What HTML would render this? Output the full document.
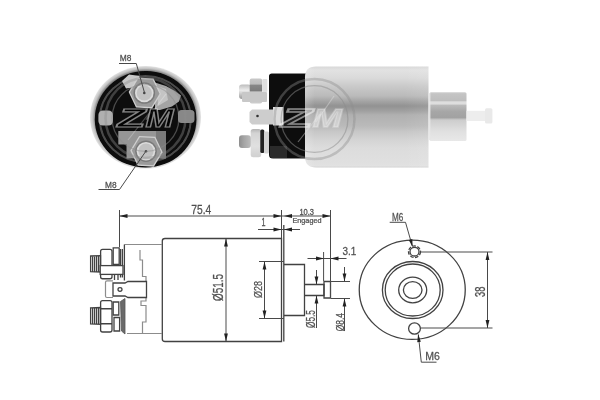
<!DOCTYPE html>
<html><head><meta charset="utf-8"><title>Solenoid</title>
<style>
html,body{margin:0;padding:0;background:#fff;}
body{width:600px;height:400px;overflow:hidden;}
svg{display:block;}
text{font-family:"Liberation Sans",sans-serif;fill:#505050;stroke:#505050;stroke-width:0.25px;vector-effect:non-scaling-stroke;}
.l{stroke:#424242;stroke-width:1.3;fill:none;}
.lt{stroke:#4a4a4a;stroke-width:1;fill:none;}
.g{stroke:#8c8c8c;stroke-width:1.2;fill:none;}
.a{fill:#222;stroke:none;}
.wm{font-family:"Liberation Sans",sans-serif;font-weight:bold;font-style:italic;fill:#fff;fill-opacity:0.3;stroke:#fff;stroke-opacity:0.75;stroke-width:1.2px;}
</style></head><body>
<svg width="600" height="400" viewBox="0 0 600 400">
<defs>
<linearGradient id="cyl" x1="0" y1="0" x2="0" y2="1">
<stop offset="0.000" stop-color="#d8d8d8"/><stop offset="0.035" stop-color="#e2e2e2"/><stop offset="0.114" stop-color="#dadada"/><stop offset="0.193" stop-color="#cacaca"/><stop offset="0.292" stop-color="#bababa"/><stop offset="0.342" stop-color="#a5a5a5"/><stop offset="0.391" stop-color="#929292"/><stop offset="0.441" stop-color="#a0a0a0"/><stop offset="0.480" stop-color="#b0b0b0"/><stop offset="0.589" stop-color="#bababa"/><stop offset="0.649" stop-color="#c8c8c8"/><stop offset="0.728" stop-color="#d4d4d4"/><stop offset="0.807" stop-color="#dcdcdc"/><stop offset="0.965" stop-color="#e0e0e0"/><stop offset="0.985" stop-color="#e2e2e2"/><stop offset="1.000" stop-color="#d0d0d0"/>
</linearGradient>
<linearGradient id="cylx" x1="0" y1="0" x2="1" y2="0">
<stop offset="0" stop-color="#fff" stop-opacity="0.2"/><stop offset="0.08" stop-color="#fff" stop-opacity="0"/>
<stop offset="0.8" stop-color="#fff" stop-opacity="0"/><stop offset="1" stop-color="#fff" stop-opacity="0.08"/>
</linearGradient>
<linearGradient id="hou" x1="0" y1="0" x2="0" y2="1">
<stop offset="0" stop-color="#cecece"/><stop offset="0.04" stop-color="#c4c4c4"/><stop offset="0.17" stop-color="#bebebe"/><stop offset="0.2" stop-color="#dedede"/><stop offset="0.24" stop-color="#dedede"/><stop offset="0.27" stop-color="#bababa"/><stop offset="0.4" stop-color="#a6a6a6"/><stop offset="0.52" stop-color="#a2a2a2"/><stop offset="0.57" stop-color="#cdcdcd"/><stop offset="0.8" stop-color="#e0e0e0"/><stop offset="1" stop-color="#e8e8e8"/>
</linearGradient>
<linearGradient id="nut" x1="0" y1="0" x2="0" y2="1">
<stop offset="0" stop-color="#d8d8d8"/><stop offset="0.35" stop-color="#f0f0f0"/>
<stop offset="0.7" stop-color="#b4b4b4"/><stop offset="1" stop-color="#8a8a8a"/>
</linearGradient>
<linearGradient id="nutA" x1="0" y1="0" x2="0" y2="1">
<stop offset="0" stop-color="#c8c8c8"/><stop offset="0.22" stop-color="#bcbcbc"/>
<stop offset="0.27" stop-color="#868686"/><stop offset="0.48" stop-color="#7c7c7c"/>
<stop offset="0.54" stop-color="#c4c4c4"/><stop offset="1" stop-color="#cccccc"/>
</linearGradient>
<linearGradient id="nutB" x1="0" y1="0" x2="0" y2="1">
<stop offset="0" stop-color="#b4b4b4"/><stop offset="0.15" stop-color="#d4d4d4"/>
<stop offset="0.6" stop-color="#e0e0e0"/><stop offset="1" stop-color="#d0d0d0"/>
</linearGradient>
<linearGradient id="thrB" x1="0" y1="0" x2="1" y2="0">
<stop offset="0" stop-color="#8e8e8e"/><stop offset="0.4" stop-color="#a4a4a4"/>
<stop offset="1" stop-color="#bcbcbc"/>
</linearGradient>
<linearGradient id="thr" x1="0" y1="0" x2="0" y2="1">
<stop offset="0" stop-color="#bdbdbd"/><stop offset="0.4" stop-color="#ececec"/>
<stop offset="1" stop-color="#9a9a9a"/>
</linearGradient>
<radialGradient id="rim" cx="0.5" cy="0.5" r="0.5">
<stop offset="0.84" stop-color="#222"/><stop offset="0.9" stop-color="#777"/>
<stop offset="0.95" stop-color="#c2c2c2"/><stop offset="1" stop-color="#e4e4e4"/>
</radialGradient>
<radialGradient id="stud" cx="0.5" cy="0.5" r="0.5">
<stop offset="0" stop-color="#555"/><stop offset="0.16" stop-color="#8a8a8a"/><stop offset="0.22" stop-color="#b4b4b4"/>
<stop offset="0.6" stop-color="#bcbcbc"/><stop offset="0.7" stop-color="#dcdcdc"/>
<stop offset="0.9" stop-color="#d4d4d4"/><stop offset="1" stop-color="#909090"/>
</radialGradient>
<filter id="b1" x="-10%" y="-10%" width="120%" height="120%"><feGaussianBlur stdDeviation="0.7"/></filter>
<filter id="b2" x="-10%" y="-10%" width="120%" height="120%"><feGaussianBlur stdDeviation="1.1"/></filter>
<filter id="b0" x="-10%" y="-10%" width="120%" height="120%"><feGaussianBlur stdDeviation="0.35"/></filter>
<filter id="bd" x="-5%" y="-5%" width="110%" height="110%"><feGaussianBlur stdDeviation="0.4"/></filter>
<clipPath id="c1"><ellipse cx="145.5" cy="117.3" rx="55.5" ry="51.3"/></clipPath>
</defs>
<rect width="600" height="400" fill="#fff"/>

<!-- ===== PHOTO 1 : end view ===== -->
<g id="photo1" filter="url(#b1)">
<ellipse cx="145.500" cy="117.300" rx="55.500" ry="51.300" fill="url(#rim)"/>
<ellipse cx="145.600" cy="119.300" rx="50.800" ry="48.200" fill="#080808"/>
<ellipse cx="145.300" cy="119" rx="45.500" ry="43" fill="none" stroke="#4c4c4c" stroke-width="2"/>
<!-- contact plates -->
<path d="M122 81 L129 74.500 L140 76 L137 87 L126 88.500 Z" fill="#c8c8c8"/>
<path d="M155 82.500 L166 86 L175 91 L181 95.500 L179 101.500 L172 106.500 L160 110 L155 110 Z" fill="#a4a4a4"/>
<path d="M157 86 L166 89 L168 100 L158 106 Z" fill="#c4c4c4"/>
<path d="M118.300 131 L166 131 L166 158.500 L126.500 158.500 L126.500 144.500 L118.300 144.500 Z" fill="#969696"/>
<rect x="156" y="131" width="10" height="27" fill="#7a7a7a"/>
<!-- side tabs -->
<rect x="98.400" y="110.500" width="14.600" height="15" rx="4.500" fill="#b0b0b0"/>
<rect x="178" y="110" width="16.500" height="13" rx="3.500" fill="#888"/>
<!-- nuts -->
<polygon points="161.0,93.9 152.2,108.4 136.0,107.5 128.6,92.1 137.4,77.6 153.6,78.5" fill="#cfcfcf"/>
<polygon points="159.5,93.8 151.5,107.0 136.8,106.2 130.1,92.2 138.1,79.0 152.8,79.8" fill="#9a9a9a"/>
<circle cx="144.3" cy="93" r="10.8" fill="#7a7a7a"/>
<circle cx="144.3" cy="93" r="9.3" fill="#dcdcdc"/>
<circle cx="144.3" cy="93" r="7.600" fill="#c2c2c2"/>
<circle cx="144.3" cy="93" r="1.300" fill="#444"/>
<polygon points="162.7,152.2 153.9,166.7 137.7,165.8 130.3,150.4 139.1,135.9 155.3,136.8" fill="#cfcfcf"/>
<polygon points="161.2,152.1 153.2,165.3 138.5,164.5 131.8,150.5 139.8,137.3 154.5,138.1" fill="#9a9a9a"/>
<circle cx="146" cy="151.2" r="10.8" fill="#7a7a7a"/>
<circle cx="146" cy="151.2" r="9.3" fill="#dcdcdc"/>
<circle cx="146" cy="151.2" r="7.600" fill="#c2c2c2"/>
<circle cx="146" cy="151.2" r="1.300" fill="#444"/>
</g>
<!-- watermark 1 -->
<g clip-path="url(#c1)" filter="url(#b0)">
<circle cx="145.500" cy="118" r="40" fill="none" stroke="#8c8c8c" stroke-width="2.500" opacity="0.4"/>
<circle cx="145.500" cy="118" r="33.400" fill="none" stroke="#8c8c8c" stroke-width="1.300" opacity="0.5"/>
<path d="M128 140 L150 112 L146 120 L166 94" fill="none" stroke="#fff" stroke-width="1.200" opacity="0.25"/>
<text class="wm" style="fill:#050505;fill-opacity:0.85;stroke-opacity:0.5;stroke-width:1px" transform="matrix(1 0 0 1.160 117.500 127.300)" font-size="23"><tspan textLength="28" lengthAdjust="spacingAndGlyphs">Z</tspan><tspan textLength="28" lengthAdjust="spacingAndGlyphs">M</tspan></text>
</g>
<!-- labels photo1 -->
<g filter="url(#bd)">
<text transform="matrix(0.838 0 0 0.93 119.75 61.407)" font-size="10">M8</text>
<path class="lt" d="M119 63.500H136.300L144.300 92"/>
<text transform="matrix(0.835 0 0 0.873 105 187.513)" font-size="10">M8</text>
<path class="lt" d="M98.500 189.500H119.500L146 151"/>
</g>

<!-- ===== PHOTO 2 : side view ===== -->
<g id="photo2" filter="url(#b1)">
<!-- studs -->
<rect x="239" y="84.500" width="12" height="14.500" rx="3" fill="url(#thr)"/>
<rect x="249.700" y="78.500" width="12.500" height="25" rx="2" fill="url(#nutA)"/>
<rect x="242" y="92" width="25" height="10" rx="1" fill="#c8c8c8"/>
<rect x="262.300" y="79" width="5" height="13" rx="1" fill="#e0e0e0"/>
<rect x="239" y="135.300" width="12" height="12.700" rx="3" fill="url(#thrB)"/>
<rect x="250.700" y="129" width="10.500" height="28.300" rx="2.500" fill="url(#nutB)"/>
<rect x="260.300" y="129.400" width="4" height="23.600" rx="1.500" fill="#222"/>
<rect x="264" y="131.600" width="5" height="22" rx="1.500" fill="#d2d2d2"/>
<!-- black cap -->
<path d="M269 76 Q269 73.500 272 73.500 L312 73.500 L312 158.500 L273 158.500 Q269 158.500 269 155 Z" fill="#111"/>
<path d="M270 146 L287 146 L287 158 L273 158 Q270 158 270 155 Z" fill="#2c2c2c"/>
<!-- blade -->
<path d="M249.500 112 L252 109.500 L276 109.500 L276 124.500 L252 124.500 L249.500 122 Z" fill="#cdcdcd"/>
<rect x="273" y="107" width="10.500" height="18.500" fill="#dcdcdc"/>
<circle cx="257.500" cy="116" r="1.300" fill="#333"/>
<!-- body -->
<path d="M305 77.500 Q305 66.500 316 66.500 L428.500 66.500 L428.500 167.500 L316 167.500 Q305 167.500 305 156.500 Z" fill="url(#cyl)"/>
<path d="M305 77.500 Q305 66.500 316 66.500 L428.500 66.500 L428.500 167.500 L316 167.500 Q305 167.500 305 156.500 Z" fill="url(#cylx)"/>
<rect x="429.500" y="92.200" width="37" height="48.800" rx="1.500" fill="url(#hou)"/>
<rect x="428.500" y="93" width="2" height="47" fill="#e6e6e6" opacity="0.8"/>
<rect x="466.500" y="110.800" width="19" height="10.200" fill="#ededed"/>
<rect x="485" y="108.200" width="7.400" height="15.400" rx="1.500" fill="#e9e9e9"/>
</g>
<!-- watermark 2 -->
<g filter="url(#b0)">
<circle cx="314.500" cy="119" r="40" fill="none" stroke="#8c8c8c" stroke-width="2.500" opacity="0.4"/>
<circle cx="314.500" cy="119" r="33.400" fill="none" stroke="#8c8c8c" stroke-width="1.300" opacity="0.5"/>
<path d="M298 142 L320 114 L316 122 L334 96" fill="none" stroke="#e4e4e4" stroke-width="1.200" opacity="0.4"/>
<text class="wm" transform="matrix(1 0 0 1.160 281 127.300)" font-size="23"><tspan style="fill-opacity:0.06;stroke-opacity:0.5" textLength="31.500" lengthAdjust="spacingAndGlyphs">Z</tspan><tspan style="fill-opacity:0.35;stroke-opacity:0.25" textLength="29.500" lengthAdjust="spacingAndGlyphs">M</tspan></text>
</g>

<!-- ===== DRAWING 1 : side ===== -->
<g id="draw1" filter="url(#bd)">
<!-- body -->
<path class="l" d="M165 238.500H281.500V341.500H165Q162.300 341.500 162.300 339V241Q162.300 238.500 165 238.500Z"/>
<path class="l" d="M283.800 225V341.500"/>
<path class="l" d="M284 264.500H304.500V315.500H284"/>
<path class="l" d="M304.500 284.500H324V295.500H304.500"/>
<path class="l" d="M324 281.500H330.500V298H324Z"/>
<!-- cap (light) -->
<path class="g" d="M124.500 244.500H162M127 333.500H162M140 250V260H142.500V276.500H146V282M146 298V301H141V305.500H146V322H142.500V333"/>
<!-- upper stud -->
<path class="l" stroke-width="1.100" d="M90.600 256L100.500 255.600V272L90.600 271.600ZM92.600 256V271.600M94.600 256V271.600M96.600 256V271.600M98.600 256V271.600"/>
<path class="l" d="M100.600 251.400Q100.600 249.400 102.600 249.400H110Q112 249.400 112 251.400V276.750Q112 278.750 110 278.750H102.600Q100.600 278.750 100.600 276.750Z"/>
<path class="l" stroke-width="1.600" d="M113.200 247.800H119.200V264.400H113.200Z"/>
<path class="l" stroke-width="1.100" d="M120.500 249V277.500M122.400 249V277.500M124.400 244.500V280.500M114.500 274.400V280M118 274.400V280"/>
<rect class="l" x="100.200" y="265.600" width="22.800" height="8.800" style="fill:#fff"/>
<!-- blade -->
<path class="g" d="M113 280.800H107Q105.500 280.800 105.500 282.300V296Q105.500 297.500 107 297.500H113"/>
<path class="l" d="M113 283H125L128 281.500H146.500V297.500H128L125 296H113Z"/>
<ellipse class="l" cx="120" cy="289.500" rx="2" ry="1.800" stroke-width="1"/>
<!-- lower stud -->
<path class="l" stroke-width="1.100" d="M90.600 307.900L100.500 307.500V324.400L90.600 324ZM92.600 308V324M94.600 308V324M96.600 308V324M98.600 308V324"/>
<path class="l" d="M100.600 302.600Q100.600 300.600 102.600 300.600H110Q112 300.600 112 302.600V330Q112 332 110 332H102.600Q100.600 332 100.600 330ZM100.600 308.750H112M100.600 323.750H112"/>
<path class="l" stroke-width="1.400" d="M113.200 302H118.800V315H113.200ZM114 317.500H119.600V331H114Z"/>
<path d="M120.500 301.500L125 298.500V334L121.500 331Z" fill="#6a6a6a" stroke="#555" stroke-width="0.800"/>
<!-- dim 75.400 -->
<path class="lt" d="M119.500 210V247M119.500 216H282M281.500 210V238"/>
<polygon class="a" points="119.5,216 127.5,214.1 127.5,217.9"/><polygon class="a" points="281.5,216 273.5,214.1 273.5,217.9"/>
<text transform="matrix(1.026 0 0 1.257 191.25 213.674)" font-size="10">75.4</text>
<!-- dim 10.300 -->
<path class="lt" d="M282 216H330.500M330.500 210V298"/>
<polygon class="a" points="284,216 292,214.1 292,217.9"/><polygon class="a" points="330.5,216 322.5,214.1 322.5,217.9"/>
<text transform="matrix(0.751 0 0 0.817 299.4 214.918)" font-size="10">10.3</text>
<text transform="matrix(0.729 0 0 0.706 292.4 223.118)" font-size="10">Engaged</text>
<!-- dim 1 -->
<path class="lt" d="M258 229.500H300"/>
<polygon class="a" points="281.5,229.5 273.5,227.6 273.5,231.4"/><polygon class="a" points="284,229.5 292,227.6 292,231.4"/>
<text transform="matrix(0.721 0 0 1.116 261.6 226)" font-size="10">1</text>
<!-- dia 51.500 -->
<path class="lt" d="M226 238.500V341.500"/>
<polygon class="a" points="226,238.5 224.1,246.5 227.9,246.5"/><polygon class="a" points="226,341.5 224.1,333.5 227.9,333.5"/>
<text transform="translate(223.262 301) rotate(-90) scale(0.991 1.38)" font-size="10">Ø51.5</text>
<!-- dia 28 -->
<path class="lt" d="M259 261.500H284M259 318.500H284M264.500 261.500V318.500"/>
<polygon class="a" points="264.5,261.5 262.6,269.5 266.4,269.5"/><polygon class="a" points="264.5,318.5 262.6,310.5 266.4,310.5"/>
<text transform="translate(261.882 298) rotate(-90) scale(0.899 1.183)" font-size="10">Ø28</text>
<!-- dia 5.500 -->
<path class="lt" d="M316.500 270V284.500M316.500 295.500V328"/>
<polygon class="a" points="316.5,284.5 314.6,276.5 318.4,276.5"/><polygon class="a" points="316.5,295.5 314.6,303.5 318.4,303.5"/>
<text transform="translate(314.877 328) rotate(-90) scale(0.829 1.232)" font-size="10">Ø5.5</text>
<!-- dia 8.400 -->
<path class="lt" d="M331 281.500H350M331 298.500H350M344.500 267V281.500M344.500 298.500V331"/>
<polygon class="a" points="344.5,281.5 342.6,273.5 346.4,273.5"/><polygon class="a" points="344.5,298.5 342.6,306.5 346.4,306.5"/>
<text transform="translate(344.384 331.25) rotate(-90) scale(0.841 1.162)" font-size="10">Ø8.4</text>
<!-- 3.100 -->
<path class="lt" d="M307.500 258.500H346.500M323.600 252V281"/>
<polygon class="a" points="324,258.5 316,256.6 316,260.4"/><polygon class="a" points="330.5,258.5 338.5,256.6 338.5,260.4"/>
<text transform="matrix(0.989 0 0 1.056 342.5 255.394)" font-size="10">3.1</text>
</g>

<!-- ===== DRAWING 2 : flange view ===== -->
<g id="draw2" filter="url(#bd)">
<ellipse class="l" cx="412.250" cy="289.750" rx="53" ry="49.700"/>
<ellipse class="l" cx="412.700" cy="290" rx="30.300" ry="28.500"/>
<ellipse class="l" cx="412.700" cy="290" rx="27.500" ry="26"/>
<ellipse class="l" cx="412.700" cy="290" rx="14" ry="12.800"/>
<ellipse class="l" cx="412.700" cy="290" rx="9.300" ry="8.400"/>
<ellipse class="l" cx="414.500" cy="251.700" rx="6" ry="5.800" stroke-width="1" stroke-dasharray="3.500 1.500"/>
<ellipse class="l" cx="414.500" cy="251.700" rx="4.500" ry="4.300" stroke-width="0.800"/>
<ellipse class="l" cx="414.500" cy="328.500" rx="5.900" ry="5.700" stroke-width="1.700"/>
<path class="lt" d="M421 252H492.500M420.500 328H492.500M487.500 252V328"/>
<polygon class="a" points="487.5,252 485.6,260 489.4,260"/><polygon class="a" points="487.5,328 485.6,320 489.4,320"/>
<text transform="translate(484.859 297) rotate(-90) scale(0.937 1.408)" font-size="10">38</text>
<text transform="matrix(0.813 0 0 1.155 392 220.685)" font-size="10">M6</text>
<path class="lt" d="M389.700 222.300H405.500L412.300 246"/>
<polygon class="a" points="412.600,247 408.800,240 412.300,239"/>
<text transform="matrix(1.058 0 0 1.155 425.3 360.085)" font-size="10">M6</text>
<path class="lt" d="M418.300 334.500L421.300 362.200H436.500"/>
<polygon class="a" points="418.200,334 417.200,342.200 420.800,341.800"/>
</g>
</svg>
</body></html>
